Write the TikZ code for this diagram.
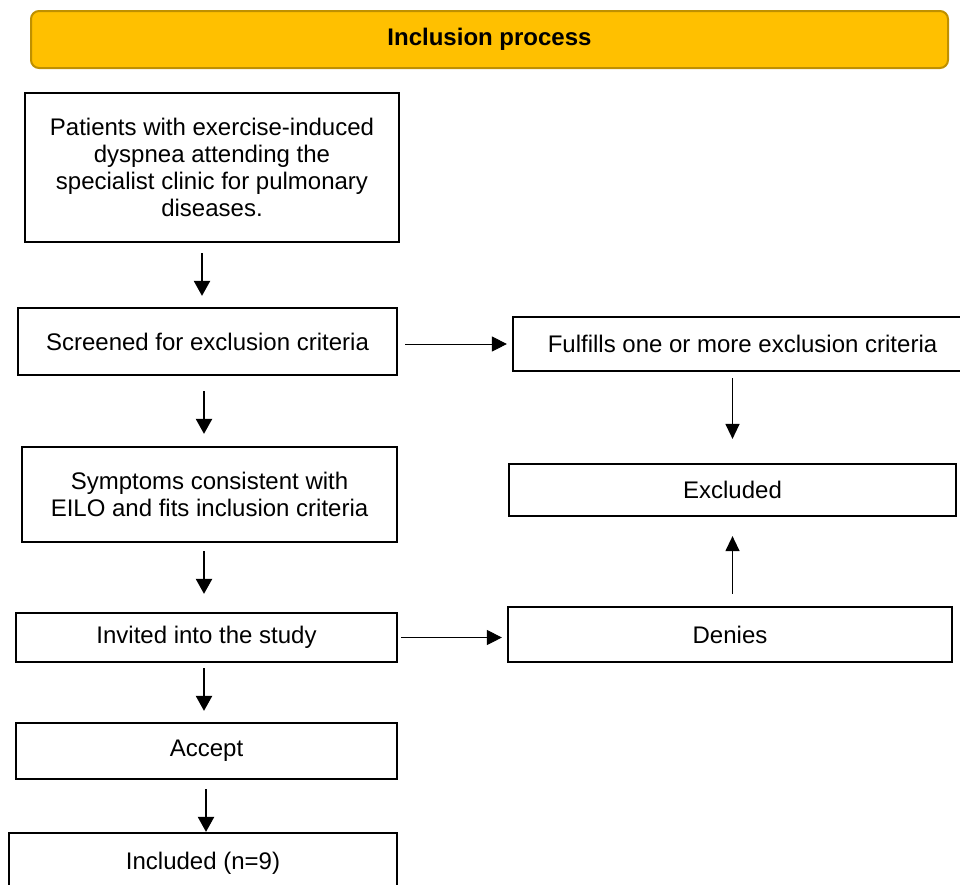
\documentclass[tikz,border=0pt]{standalone}
\usepackage{fontspec}
\setmainfont{Liberation Sans}
\usetikzlibrary{arrows.meta,positioning}
\definecolor{TitleFill}{HTML}{FFC000}
\definecolor{TitleLine}{HTML}{BF9000}
\tikzset{>=Stealth,every node/.style={font=\fontsize{24}{27}\selectfont},
 stepbox/.style={draw=black,line width=2.2pt,align=center,inner sep=0pt},
 flow/.style={line width=2.2pt,-{Triangle[length=15pt,width=16pt]}},
 side/.style={line width=1pt,-{Triangle[length=15pt,width=15pt]}},
 back/.style={line width=1.3pt,-{Triangle[length=15pt,width=14pt]}}}
\begin{document}
\begin{tikzpicture}[x=1pt,y=-1pt]
\clip (0,0) rectangle (960,884);
\node[stepbox,draw=TitleLine,fill=TitleFill,line width=2pt,rounded corners=8pt,
 minimum width=917,minimum height=57,font=\fontsize{24}{27}\selectfont\bfseries]
 (title) at (489.5,39.5) {Inclusion process};
% left column
\node[stepbox,minimum width=374,minimum height=149] (pat) at (212,167.5)
 {Patients with exercise-induced\\dyspnea attending the\\specialist clinic for pulmonary\\diseases.};
\node[stepbox,minimum width=379,minimum height=67] (scr) at (207.5,341.5) {Screened for exclusion criteria};
\node[stepbox,minimum width=375,minimum height=95] (sym) at (209.5,494.5)
 {Symptoms consistent with\\EILO and fits inclusion criteria};
\node[stepbox,minimum width=381,minimum height=49] (inv) at (206.5,637.5) {Invited into the study};
\node[stepbox,minimum width=381,minimum height=56] (acc) at (206.5,751) {Accept};
\node[stepbox,minimum width=388,minimum height=61] (inc) at (203,863.5) {Included (n=9)};
% right column
\node[stepbox,minimum width=459,minimum height=54] (ful) at (742.5,344) {Fulfills one or more exclusion criteria};
\node[stepbox,minimum width=447,minimum height=52] (exc) at (732.5,490) {Excluded};
\node[stepbox,minimum width=444,minimum height=55] (den) at (730,634.5) {Denies};
\foreach \a/\b/\s/\e/\dx in {pat/scr/10pt/11pt/-10pt,scr/sym/15pt/12pt/-3.5pt,
 sym/inv/8pt/18pt/-5.5pt,inv/acc/5pt/11pt/-2.5pt,acc/inc/9pt/0pt/-0.5pt}
 \draw[flow,shorten <=\s,shorten >=\e] ([xshift=\dx]\a.south) -- ([xshift=\dx]\a.south |- \b.north);
\draw[side,shorten <=7pt,shorten >=5pt] (scr.east |- ful.west) -- (ful.west);
\draw[side,shorten <=3pt,shorten >=5pt] (inv.east) -- (inv.east -| den.west);
\draw[back,shorten <=6pt,shorten >=24pt] (ful.south -| exc.north) -- (exc.north);
\draw[back,shorten <=12pt,shorten >=19pt] (den.north -| exc.south) -- (exc.south);
\end{tikzpicture}
\end{document}
